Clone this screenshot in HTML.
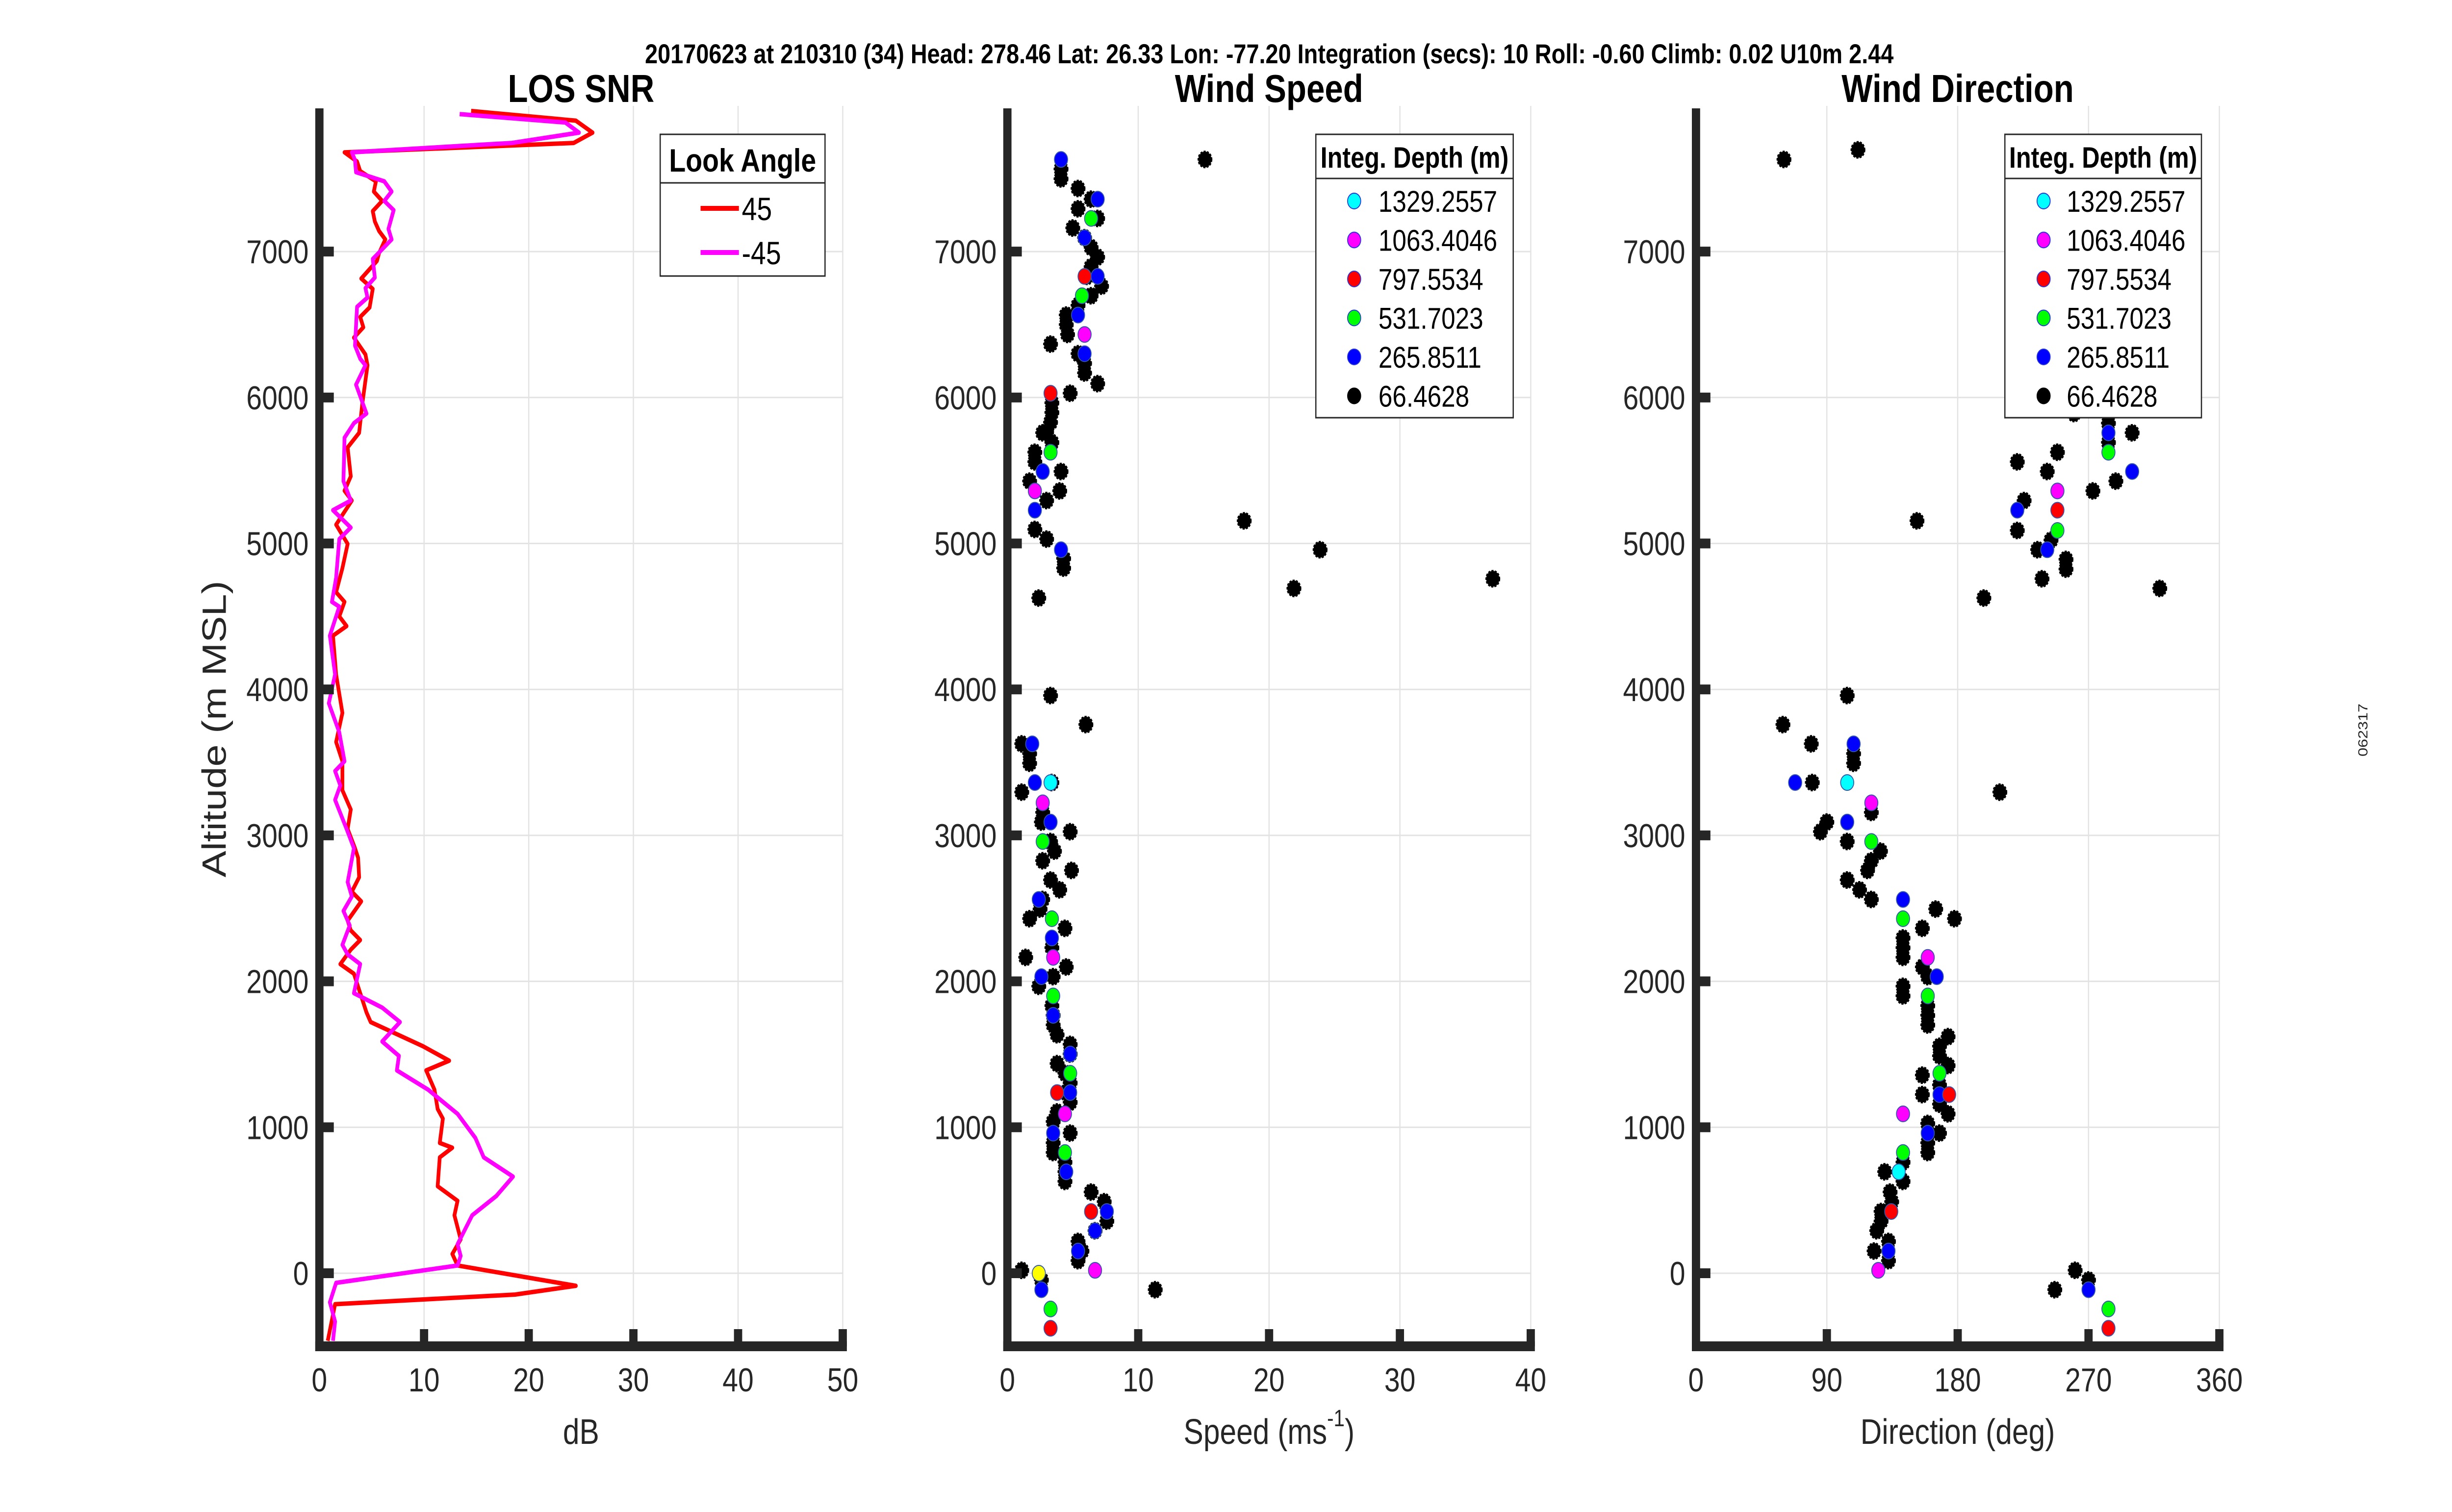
<!DOCTYPE html>
<html><head><meta charset="utf-8">
<style>
html,body{margin:0;padding:0;background:#fff;width:100%;height:100%;overflow:hidden;}
svg{display:block;position:absolute;left:0;top:0;width:100vw;height:100vh;font-family:"Liberation Sans",Arial,sans-serif;}
</style></head>
<body>
<svg id="fig" viewBox="0 0 5950 3084" preserveAspectRatio="none" xmlns="http://www.w3.org/2000/svg">
<rect x="0" y="0" width="5950" height="3084" fill="#fff"/>
<text x="3080" y="129" text-anchor="middle" font-size="56" font-weight="bold" textLength="3030" lengthAdjust="spacingAndGlyphs">20170623 at 210310 (34)  Head: 278.46  Lat: 26.33  Lon: -77.20  Integration (secs): 10  Roll: -0.60  Climb: 0.02  U10m 2.44</text>
<text transform="translate(5745,1489) rotate(-90)" text-anchor="middle" font-size="32" fill="#262626" textLength="108" lengthAdjust="spacingAndGlyphs">062317</text>
<g id="layer"></g>
</svg>
<script>
// ---------- data ----------
const yTicks = [0,1000,2000,3000,4000,5000,6000,7000];
const snrTicks = [0,10,20,30,40,50];
const speedTicks = [0,10,20,30,40];
const dirTicks = [0,90,180,270,360];

const snr45Alt = [7963,7897,7815,7744,7680,7617,7551,7481,7411,7347,7277,7206,7141,7083,6989,6936,6815,6744,6617,6552,6481,6410,6295,6221,5956,5758,5658,5460,5361,5294,5129,4997,4831,4666,4600,4500,4434,4368,4103,3839,3640,3508,3309,3177,3044,2912,2846,2713,2614,2548,2416,2349,2283,2217,2118,2052,1919,1787,1721,1555,1456,1390,1257,1125,1059,893,860,794,596,496,397,232,132,53,-86,-146,-212,-463];
const snr45Val = [14.5,24.5,26.1,24.3,2.4,3.6,3.9,5.4,5.2,6.0,5.1,5.3,5.7,6.3,5.7,5.5,4.0,5.1,4.8,3.9,4.2,3.3,4.4,4.6,4.1,3.8,2.7,3.0,2.4,3.1,1.6,2.7,2.2,1.6,2.4,1.9,2.6,1.3,1.6,2.2,1.6,2.2,2.2,3.0,2.7,3.4,3.7,3.8,3.1,4.0,2.7,3.0,3.9,3.0,2.0,3.3,3.9,4.5,4.9,9.9,12.4,10.2,11.0,11.3,11.8,11.5,12.7,11.5,11.3,13.2,12.9,13.5,12.7,13.2,24.5,18.7,1.5,0.8];
const snrM45Alt = [7942,7884,7815,7744,7680,7627,7544,7481,7411,7347,7284,7155,7083,6949,6822,6749,6685,6621,6356,6265,6221,6088,5890,5824,5725,5427,5294,5228,5109,5030,4765,4600,4567,4368,4103,3905,3706,3508,3441,3342,3243,3044,2912,2680,2581,2482,2383,2250,2184,2118,1919,1820,1721,1588,1489,1390,1257,1092,927,794,662,529,397,199,119,53,-66,-199,-331,-463];
const snrM45Val = [13.4,23.5,24.8,18.4,3.1,3.4,3.5,6.2,6.9,6.2,7.1,6.6,6.9,5.1,5.3,4.4,4.6,3.6,3.4,3.9,4.4,3.5,4.5,3.3,2.4,2.3,3.0,1.3,3.0,1.9,1.6,1.2,1.9,1.0,1.5,0.9,1.9,2.4,1.5,2.0,1.5,2.6,3.3,2.7,3.1,2.3,2.9,2.2,2.7,3.9,3.3,6.0,7.7,6.0,7.6,7.4,10.4,13.2,14.9,15.7,18.5,16.9,14.6,13.2,13.5,13.2,1.6,1.0,1.5,1.3];

const depthLabels = ["1329.2557","1063.4046","797.5534","531.7023","265.8511","66.4628"];
const depthColors = ["#00ffff","#ff00ff","#ff0000","#00ff00","#0000ff","#000000"];

const spdBlack = [[15.1,7631],[4.1,7565],[4.1,7498],[5.4,7432],[5.4,7293],[6.4,7359],[6.9,7227],[5.0,7161],[5.9,7095],[6.4,7028],[6.9,6962],[6.4,6896],[6.1,6830],[7.2,6763],[6.4,6697],[5.4,6631],[4.5,6565],[4.5,6499],[4.6,6432],[3.3,6366],[5.4,6300],[5.9,6234],[5.9,6168],[6.9,6095],[4.8,6029],[3.4,5963],[3.4,5897],[3.3,5830],[3.0,5764],[2.7,5758],[3.4,5692],[2.1,5625],[2.1,5559],[4.1,5493],[1.7,5427],[4.0,5360],[3.0,5294],[2.1,5096],[3.0,5030],[18.1,5155],[23.9,4957],[4.3,4897],[4.3,4831],[21.9,4692],[37.1,4758],[2.4,4626],[3.3,3958],[6.0,3759],[1.1,3627],[1.7,3560],[1.7,3494],[3.4,3362],[1.1,3296],[2.7,3157],[2.6,3091],[4.8,3025],[3.3,2958],[3.6,2892],[2.7,2826],[4.9,2760],[3.3,2694],[4.0,2627],[2.7,2561],[2.5,2495],[1.7,2429],[4.4,2363],[3.4,2230],[1.4,2164],[4.5,2098],[3.5,2032],[2.4,1966],[3.4,1833],[3.5,1767],[3.5,1701],[3.8,1634],[4.8,1568],[4.8,1502],[3.8,1436],[4.4,1370],[4.8,1304],[4.5,1238],[4.8,1171],[3.8,1105],[3.5,1039],[4.8,960],[3.5,893],[3.5,827],[4.4,761],[4.4,695],[4.4,629],[6.4,556],[7.4,490],[7.6,357],[6.7,291],[5.4,218],[5.7,152],[5.4,86],[1.1,20],[2.6,-46],[11.3,-113]];
const spdBlue = [[4.1,7631],[6.9,7359],[5.9,7095],[6.9,6830],[5.4,6565],[5.9,6300],[2.7,5493],[2.1,5228],[4.1,4957],[1.9,3627],[2.1,3362],[3.3,3091],[2.4,2561],[3.4,2297],[2.6,2032],[3.5,1767],[4.8,1502],[4.8,1238],[3.5,960],[4.5,695],[7.6,423],[6.7,291],[5.4,152],[2.6,-113]];
const spdGreen = [[6.4,7227],[5.7,6697],[3.3,5625],[2.7,2958],[3.4,2429],[3.5,1900],[4.8,1370],[4.4,827],[3.3,-245]];
const spdRed = [[5.9,6830],[3.3,6029],[3.8,1238],[6.4,423],[3.3,-377]];
const spdMagenta = [[5.9,6432],[2.1,5360],[2.7,3223],[3.5,2164],[4.4,1092],[6.7,20]];
const spdCyan = [[3.3,3362]];
const spdYellow = [[2.4,0]];

const dirBlack = [[60.5,7631],[111.4,7697],[221,5559],[248.6,5625],[241.6,5493],[225.7,5294],[221,5089],[235,4957],[244.2,5023],[254.5,4891],[254.5,4824],[238,4758],[198,4626],[319,4692],[152,5155],[273,5360],[288.8,5427],[300,5758],[283.7,5824],[283.7,5692],[260,5890],[104,3958],[59.8,3759],[79.3,3627],[108.4,3560],[108.4,3494],[80,3362],[209,3296],[120.6,3157],[90,3091],[85.6,3025],[104,2958],[126.9,2892],[120.6,2826],[118,2760],[104,2694],[112.5,2627],[120.6,2561],[164.9,2495],[177.8,2429],[155.7,2363],[142.4,2297],[142.4,2230],[142.4,2164],[155.7,2098],[159.4,2032],[142.4,1966],[142.4,1900],[159.4,1833],[159.4,1767],[159.4,1701],[173.4,1621],[167.5,1555],[167.5,1489],[173.4,1423],[155.7,1357],[167.5,1290],[155.7,1224],[167.5,1158],[173.4,1092],[159.4,1026],[167.5,960],[159.4,893],[159.4,827],[142.4,761],[142.4,629],[129.8,695],[133.5,556],[134.6,490],[127.3,423],[127.3,357],[124.3,291],[132.4,218],[122.5,152],[132.4,86],[260.8,20],[270,-46],[246.8,-113]];
const dirBlue = [[108.4,3627],[68.2,3362],[104,3091],[142.4,2561],[165.6,2032],[167.5,1224],[159.4,960],[132.4,152],[270,-113],[221,5228],[241.6,4957],[300,5493],[283.7,5758]];
const dirGreen = [[120.6,2958],[142.4,2429],[159.4,1900],[167.5,1370],[142.4,827],[283.7,5625],[248.6,5089],[283.7,-245]];
const dirRed = [[174.1,1224],[134.3,423],[248.6,5228],[283.7,-377]];
const dirMagenta = [[120.6,3223],[159.4,2164],[142.4,1092],[125.4,20],[248.6,5360]];
const dirCyan = [[104,3362],[139.4,695]];

// ---------- layout ----------
const NS = "http://www.w3.org/2000/svg";
const layer = document.getElementById('layer');
const Y0 = 2597, PXM = 0.2977, YTOP = 216, YBOT = 2746, AXW = 1270;
function yS(v){ return Y0 - v*PXM; }
function mk(tag, attrs, parent){ const e=document.createElementNS(NS,tag); for(const k in attrs) e.setAttribute(k,attrs[k]); (parent||layer).appendChild(e); return e; }

const panels = [
  {x0:775, max:50, ticks:snrTicks, title:"LOS SNR", xlabel:"dB", name:"snr"},
  {x0:2444.5, max:40, ticks:speedTicks, title:"Wind Speed", xlabel:"Speed (ms", name:"speed"},
  {x0:4115.5, max:360, ticks:dirTicks, title:"Wind Direction", xlabel:"Direction (deg)", name:"direction"}
];
function xS(p,v){ return p.x0 + v/p.max*AXW; }

panels.forEach(p=>{
  const g = mk('g',{});
  
  
  p.ticks.forEach(t=>{ if(t===0) return;
    const l=mk('line',{x1:xS(p,t),x2:xS(p,t),y1:YTOP,y2:YBOT,stroke:'#e3e3e3','stroke-width':3},g);
    
    
  });
  yTicks.forEach(t=>{
    const l=mk('line',{x1:p.x0,x2:xS(p,p.max),y1:yS(t),y2:yS(t),stroke:'#e3e3e3','stroke-width':3},g);
    
    
  });
  const tt=mk('text',{x:p.x0+AXW/2,y:208,'text-anchor':'middle','font-size':80,'font-weight':'bold'},g);
  tt.textContent=p.title;
  
  
  p.ticks.forEach(t=>{
    const tx=mk('text',{x:xS(p,t),y:2838,'text-anchor':'middle','font-size':68,fill:'#262626'},g);
    tx.textContent=t;
    
    
  });
  yTicks.forEach(t=>{
    const ty=mk('text',{x:p.x0-26,y:yS(t)+24,'text-anchor':'end','font-size':68,fill:'#262626'},g);
    ty.textContent=t;
    
    
  });
  const xl=mk('text',{x:p.x0+AXW/2,y:2945,'text-anchor':'middle','font-size':72,fill:'#262626'},g);
  xl.textContent=p.xlabel;
  if(p.name==='speed'){
    const sup=mk('tspan',{dy:-36,'font-size':48},xl); sup.textContent='-1';
    const cl=mk('tspan',{dy:36},xl); cl.textContent=')';
  }
  
  
  p.g=g;
});

const yl=mk('text',{transform:'translate(548,1487) rotate(-90)','text-anchor':'middle','font-size':82,fill:'#262626',textLength:605,lengthAdjust:'spacingAndGlyphs'});
yl.textContent='Altitude (m MSL)';



function line(p, vals, alts, color, name){
  let d='';
  vals.forEach((v,i)=>{ d+=(i?'L':'M')+xS(p,v).toFixed(1)+','+yS(alts[i]).toFixed(1); });
  const pl=mk('path',{d:d,fill:'none',stroke:color,'stroke-width':9,'stroke-linejoin':'round'});
  
  
}
line(panels[0], snr45Val, snr45Alt, '#ff0000', 'snr-line-45');
line(panels[0], snrM45Val, snrM45Alt, '#ff00ff', 'snr-line-minus45');

function scatter(p, pts, fill, name){
  const g=mk('g',{});
  
  
  pts.forEach(pt=>{
    const c=mk('circle',{cx:xS(p,pt[0]),cy:yS(pt[1]),r:16,fill:fill,stroke:fill==='#000000'?'#000':'#3355aa','stroke-width':fill==='#000000'?4:2,'stroke-dasharray':fill==='#000000'?'5 3':'none'},g);
    
    
  });
}
const P2=panels[1], P3=panels[2];
scatter(P2, spdBlack, '#000000','speed-66m');
scatter(P2, spdBlue, '#0000ff','speed-266m');
scatter(P2, spdGreen, '#00ff00','speed-532m');
scatter(P2, spdRed, '#ff0000','speed-798m');
scatter(P2, spdMagenta, '#ff00ff','speed-1063m');
scatter(P2, spdCyan, '#00ffff','speed-1329m');
scatter(P2, spdYellow, '#ffff00','speed-surface');
scatter(P3, dirBlack, '#000000','dir-66m');
scatter(P3, dirBlue, '#0000ff','dir-266m');
scatter(P3, dirGreen, '#00ff00','dir-532m');
scatter(P3, dirRed, '#ff0000','dir-798m');
scatter(P3, dirMagenta, '#ff00ff','dir-1063m');
scatter(P3, dirCyan, '#00ffff','dir-1329m');

panels.forEach(p=>{
  const c='#262626';
  const s1=mk('rect',{x:p.x0-10,y:221,width:20,height:YBOT+10-221,fill:c});
   
  const s2=mk('rect',{x:p.x0-10,y:YBOT-10,width:AXW+20,height:20,fill:c});
   
  yTicks.forEach(t=>{
    const tk=mk('rect',{x:p.x0,y:yS(t)-10,width:35,height:20,fill:c});
     
  });
  p.ticks.forEach(t=>{ if(t===0) return;
    const tk=mk('rect',{x:xS(p,t)-10,y:YBOT-35,width:20,height:35,fill:c});
     
  });
});

(function(){
  const g=mk('g',{});
  
  
  mk('rect',{x:1602,y:274,width:400,height:289,fill:'#fff',stroke:'#262626','stroke-width':3},g);
  mk('line',{x1:1602,x2:2002,y1:373,y2:373,stroke:'#262626','stroke-width':3},g);
  const h=mk('text',{x:1802,y:350,'text-anchor':'middle','font-size':66,'font-weight':'bold'},g); h.textContent='Look Angle';
  [['45','#ff0000',425],['-45','#ff00ff',515]].forEach(e=>{
    const en=mk('g',{},g);
    
    
    mk('line',{x1:1700,x2:1793,y1:e[2],y2:e[2],stroke:e[1],'stroke-width':10},en);
    const t=mk('text',{x:1800,y:e[2]+24,'font-size':66},en); t.textContent=e[0];
  });
})();

function depthLegend(x0,x1,markerX,textX,name){
  const g=mk('g',{});
  
  
  mk('rect',{x:x0,y:274,width:x1-x0,height:578,fill:'#fff',stroke:'#262626','stroke-width':3},g);
  mk('line',{x1:x0,x2:x1,y1:364,y2:364,stroke:'#262626','stroke-width':3},g);
  const h=mk('text',{x:(x0+x1)/2,y:342,'text-anchor':'middle','font-size':60,'font-weight':'bold'},g); h.textContent='Integ. Depth (m)';
  depthLabels.forEach((lab,i)=>{
    const cy=410+i*79.5;
    const en=mk('g',{},g);
    
    
    mk('circle',{cx:markerX,cy:cy,r:16,fill:depthColors[i],stroke:depthColors[i]==='#000000'?'#000':'#2233dd','stroke-width':2},en);
    const t=mk('text',{x:textX,y:cy+22,'font-size':61},en); t.textContent=lab;
  });
}
depthLegend(3193,3672,3286,3345,'speed-depth-legend');
depthLegend(4865,5342,4959,5015,'direction-depth-legend');
</script>
</body></html>
